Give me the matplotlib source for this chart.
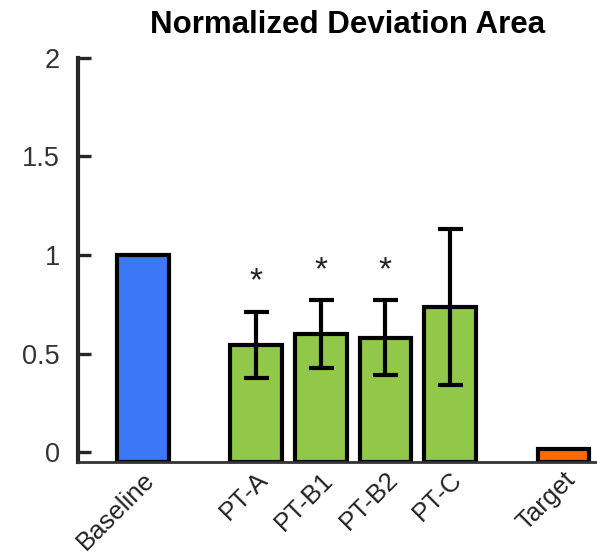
import numpy as np
import matplotlib.pyplot as plt

plt.rcParams['font.family'] = ['Liberation Sans', 'DejaVu Sans']

# data
labels = ['Baseline', 'PT-A', 'PT-B1', 'PT-B2', 'PT-C', 'Target']
positions = [0, 1.75, 2.75, 3.75, 4.75, 6.5]
values = [1.0, 0.545, 0.60, 0.58, 0.735, 0.015]
errors = [0, 0.167, 0.172, 0.19, 0.395, 0]
has_err = [False, True, True, True, True, False]
signif = [False, True, True, True, False, False]
colors = ['#3A78F5', '#92C84A', '#92C84A', '#92C84A', '#92C84A', '#FF6A00']

ymin, ymax = -0.05, 2.0

fig = plt.figure(figsize=(5.97, 5.56), dpi=100)
ax = fig.add_axes([0.1307, 0.169, 0.8673, 0.727])

heights = [v - ymin for v in values]
ax.bar(positions, heights, bottom=ymin, width=0.8, color=colors,
       edgecolor='black', linewidth=3, zorder=2)

for x, v, e, show, star in zip(positions, values, errors, has_err, signif):
    if show:
        ax.errorbar(x, v, yerr=e, fmt='none', ecolor='black', elinewidth=3,
                    capsize=9, capthick=3, zorder=3)
    if star:
        ax.text(x, v + e + 0.15, '*', ha='center', va='center', fontsize=24,
                color='#222222')

ax.set_xlim(-1, 7)
ax.set_ylim(ymin, ymax)
ax.set_yticks([0, 0.5, 1, 1.5, 2])
ax.set_yticklabels(['0', '0.5', '1', '1.5', '2'])
ax.set_xticks(positions)
ax.set_xticklabels(labels, rotation=45, ha='right', va='top',
                   rotation_mode='anchor')

ax.tick_params(axis='y', direction='in', length=9.5, width=2.4,
               labelsize=19.5, pad=13, colors='#262626', labelcolor='#333333')
ax.tick_params(axis='x', length=0, labelsize=18.5, pad=4, labelcolor='#222222')

for s in ['top', 'right']:
    ax.spines[s].set_visible(False)
ax.spines['left'].set_linewidth(3)
ax.spines['left'].set_color('#262626')
ax.spines['bottom'].set_linewidth(2)
ax.spines['bottom'].set_color('#333333')

ax.set_title('Normalized Deviation Area', fontsize=22.5, fontweight='bold',
             x=0.52, pad=18)

fig.savefig('out.png', dpi=100)
